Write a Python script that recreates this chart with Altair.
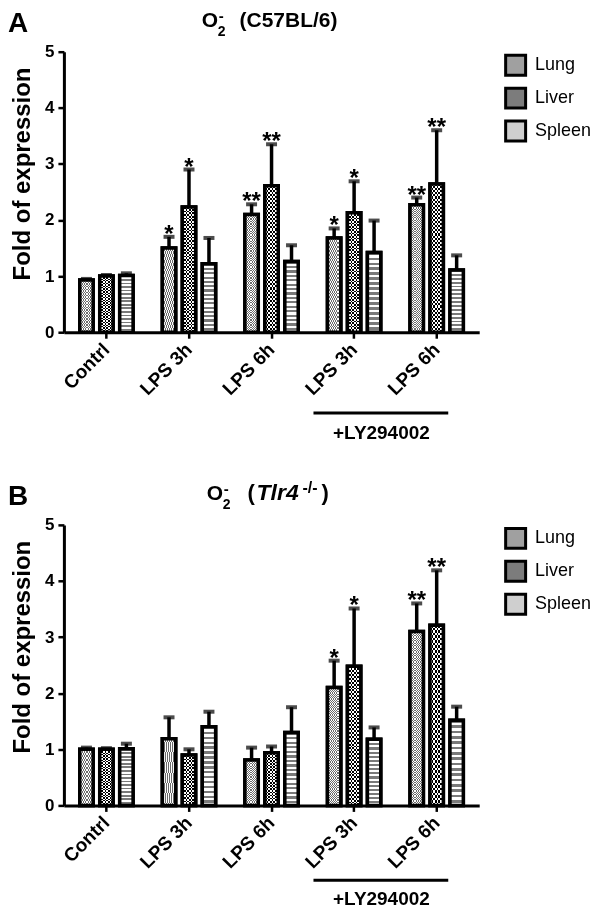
import altair as alt
import pandas as pd

groups = ["Contrl", "LPS 3h", "LPS 6h", "LY+LPS 3h", "LY+LPS 6h"]
organs = ["Lung", "Liver", "Spleen"]

# Panel A: C57BL/6  (mean, upper error value = SEM)
a_mean = {
    "Lung":   [0.93, 1.50, 2.10, 1.68, 2.27],
    "Liver":  [1.00, 2.23, 2.61, 2.13, 2.64],
    "Spleen": [1.01, 1.22, 1.26, 1.42, 1.11],
}
a_sem = {
    "Lung":   [0.02, 0.20, 0.18, 0.17, 0.13],
    "Liver":  [0.02, 0.67, 0.74, 0.56, 0.96],
    "Spleen": [0.04, 0.46, 0.29, 0.57, 0.26],
}
a_star = {
    "Lung":   ["", "*", "**", "*", "**"],
    "Liver":  ["", "*", "**", "*", "**"],
    "Spleen": ["", "", "", "", ""],
}

# Panel B: Tlr4-/-
b_mean = {
    "Lung":   [1.00, 1.19, 0.81, 2.10, 3.10],
    "Liver":  [1.00, 0.90, 0.94, 2.48, 3.21],
    "Spleen": [1.01, 1.40, 1.30, 1.18, 1.52],
}
b_sem = {
    "Lung":   [0.03, 0.38, 0.22, 0.48, 0.50],
    "Liver":  [0.02, 0.10, 0.11, 1.03, 0.98],
    "Spleen": [0.09, 0.27, 0.45, 0.21, 0.24],
}
b_star = {
    "Lung":   ["", "", "", "*", "**"],
    "Liver":  ["", "", "", "*", "**"],
    "Spleen": ["", "", "", "", ""],
}

y_ticks = [0, 1, 2, 3, 4, 5]
FONT = "Liberation Sans"


def frame(means, sems, stars):
    rows = []
    for organ in organs:
        for g, m, s, st in zip(groups, means[organ], sems[organ], stars[organ]):
            rows.append(dict(group=g, organ=organ, mean=m, top=round(m + s, 3), star=st))
    return pd.DataFrame(rows)


def stripes(n, c1, c2, horizontal=True):
    stops = []
    for k in range(n):
        a, b, c = k / n, (k + 0.5) / n, (k + 1) / n
        stops += [alt.GradientStop(offset=a, color=c1), alt.GradientStop(offset=b, color=c1),
                  alt.GradientStop(offset=b, color=c2), alt.GradientStop(offset=c, color=c2)]
    if horizontal:
        return alt.LinearGradient(gradient="linear", stops=stops, x1=0, x2=0, y1=0, y2=1)
    return alt.LinearGradient(gradient="linear", stops=stops, x1=0, x2=1, y1=0, y2=0)


X = alt.X("group:N", sort=groups, title=None,
          scale=alt.Scale(domain=groups, paddingInner=0.33, paddingOuter=0.18),
          axis=alt.Axis(labelAngle=-45, labelAlign="right", labelBaseline="middle",
                        labelExpr="replace(datum.label, 'LY+', '')", labelFontSize=19,
                        labelPadding=8, labelFontWeight="bold", tickSize=6, tickWidth=2.5))
XO = alt.XOffset("organ:N", sort=organs,
                 scale=alt.Scale(domain=organs, paddingInner=0.33, paddingOuter=0.05))
YS = alt.Scale(domain=[0, 5], nice=False)
YAX = alt.Axis(values=y_ticks, title="Fold of expression", titleFontSize=24, titleFontWeight="bold",
               labelFontSize=17, labelFontWeight="bold", tickSize=6, tickWidth=2.5,
               labelPadding=4, titlePadding=10, titleY=122, grid=False)


def one(text, x, y, size, weight="bold", style="normal", align="left", baseline="alphabetic"):
    return alt.Chart(pd.DataFrame({"k": [0]})).mark_text(
        text=text, font=FONT, fontSize=size, fontWeight=weight, fontStyle=style,
        align=align, baseline=baseline, color="black"
    ).encode(x=alt.value(x), y=alt.value(y))


def panel(df, letter, title_layers, ann_y, ann_ty):
    base = alt.Chart(df)
    fill_layer = base.mark_bar(stroke="black", strokeWidth=3.5).encode(
        x=X, xOffset=XO,
        y=alt.Y("mean:Q", scale=YS, axis=YAX),
        fill=alt.Fill("organ:N", sort=organs,
                      scale=alt.Scale(domain=organs, range=["#a0a0a0", "#7c7c7c", "#cfcfcf"]),
                      legend=alt.Legend(orient="none", legendX=441, legendY=2, title=None,
                                        symbolType="square", symbolSize=400,
                                        symbolStrokeColor="black", symbolStrokeWidth=3,
                                        labelFontSize=18, labelFont=FONT, labelFontWeight="normal",
                                        rowPadding=0, labelOffset=8)),
    )
    enc = dict(x=X, xOffset=XO, y=alt.Y("mean:Q", scale=YS, axis=YAX), y2=alt.value(281))
    # Lung: fine stipple
    lung = base.transform_filter("datum.organ == 'Lung'")
    lung_v = lung.mark_bar(fill=stripes(6, "black", "white", horizontal=False)).encode(**enc)
    lung_h = lung.mark_bar(fill=stripes(70, "white", "black"), blend="difference").encode(**enc)
    lung_l = lung.mark_bar(fill="white", fillOpacity=0.42).encode(**enc)
    # Liver: checkerboard
    liver = base.transform_filter("datum.organ == 'Liver'")
    liver_v = liver.mark_bar(fill=stripes(4, "black", "white", horizontal=False)).encode(**enc)
    liver_h = liver.mark_bar(fill=stripes(36, "white", "black"), blend="difference").encode(**enc)
    # Spleen: horizontal stripes
    spleen = base.transform_filter("datum.organ == 'Spleen'")
    spleen_s = spleen.mark_bar(fill=stripes(16, "#7a7a7a", "white")).encode(**enc)
    outline = base.mark_bar(fillOpacity=0, stroke="black", strokeWidth=3.5).encode(**enc)

    err = base.mark_rule(color="black", strokeWidth=3.5).encode(
        x=X, xOffset=XO, y=alt.Y("mean:Q", scale=YS, axis=YAX), y2="top:Q")
    cap = base.mark_tick(color="black", thickness=4, size=11, orient="horizontal").encode(
        x=X, xOffset=XO, y=alt.Y("top:Q", scale=YS, axis=YAX))
    stars = base.mark_text(font=FONT, fontSize=24, fontWeight="bold", baseline="alphabetic",
                           dy=5, color="black").encode(
        x=X, xOffset=XO, y=alt.Y("top:Q", scale=YS, axis=YAX), text="star:N")

    ann = alt.Chart(pd.DataFrame({"k": [0]})).mark_rule(color="black", strokeWidth=3).encode(
        x=alt.value(250), x2=alt.value(385), y=alt.value(ann_y))
    ann_t = one("+LY294002", 318, ann_ty, 19, align="center", baseline="middle")
    let = one(letter, -56, -20, 28)

    return alt.layer(fill_layer, lung_v, lung_h, lung_l, liver_v, liver_h, spleen_s, outline,
                     err, cap, stars, ann, ann_t, let, *title_layers).properties(width=416, height=281)


titleA = [
    one("O", 138, -25, 21),
    one("2", 154, -16, 14),
    one("-", 155, -31, 15),
    one("(C57BL/6)", 176, -25, 21),
]
titleB = [
    one("O", 143, -25, 21),
    one("2", 159, -16, 14),
    one("-", 160, -31, 15),
    one("(", 184, -25, 22),
    one("Tlr4", 193, -25, 23, style="italic"),
    one("-/-", 239, -32, 16),
    one(")", 258, -25, 22),
]

pA = panel(frame(a_mean, a_sem, a_star), "A", titleA, 362, 382)
pB = panel(frame(b_mean, b_sem, b_star), "B", titleB, 356, 375)

chart = alt.vconcat(pA, pB, spacing=193, bounds="flush").resolve_legend(
    fill="independent"
).properties(padding=0).configure_view(
    stroke=None
).configure_axis(
    domainColor="black", domainWidth=3, tickColor="black", labelColor="black",
    titleColor="black", labelFont=FONT, titleFont=FONT
)

chart.save("out.html", embed_options={"renderer": "svg", "actions": False})
